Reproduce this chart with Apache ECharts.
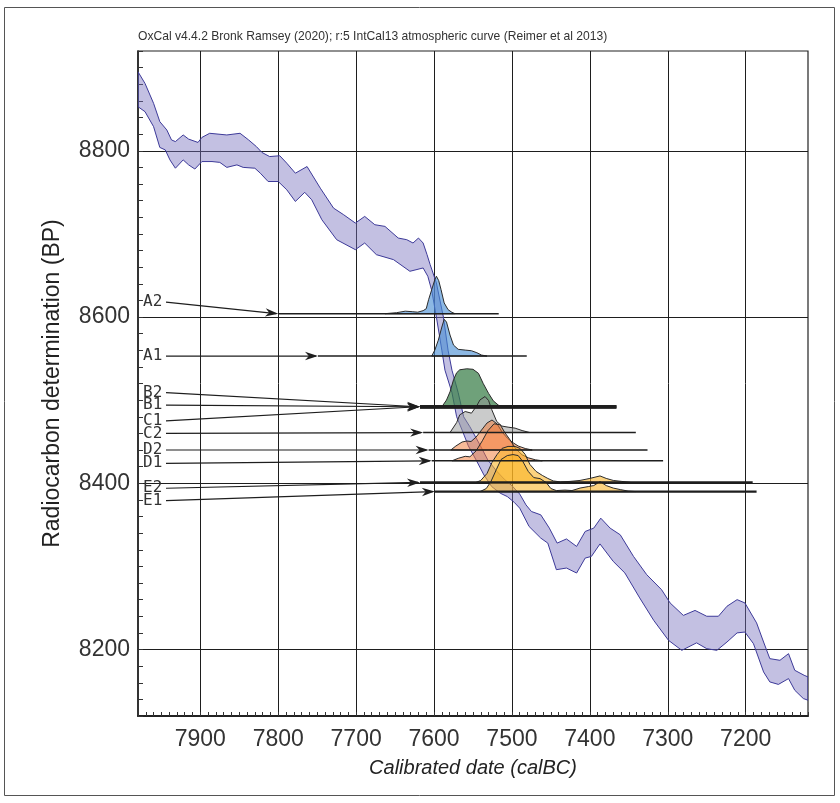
<!DOCTYPE html>
<html>
<head>
<meta charset="utf-8">
<script src="https://cdn.jsdelivr.net/npm/echarts@6/dist/echarts.min.js"></script>
<style>
  html, body { margin: 0; padding: 0; background: #fff; }
  #chart { width: 840px; height: 803px; }
</style>
</head>
<body>
<div id="chart"></div>
<script>
// IntCal13 atmospheric curve, 1-sigma envelope: [calBC, BP]
const curveUpper = [
  [7980, 8895], [7971, 8881], [7960, 8857], [7952, 8835], [7943, 8825], [7937, 8813], [7932, 8811],
  [7922, 8819], [7915, 8814], [7903, 8810], [7898, 8816], [7888, 8821], [7866, 8819], [7849, 8821],
  [7838, 8813], [7828, 8805], [7821, 8798], [7811, 8793], [7798, 8794], [7789, 8785], [7778, 8773],
  [7763, 8781], [7746, 8755], [7729, 8731], [7716, 8723], [7701, 8713], [7689, 8721], [7676, 8711],
  [7663, 8709], [7646, 8695], [7635, 8693], [7627, 8689], [7620, 8695], [7614, 8689], [7609, 8675],
  [7605, 8663], [7597, 8641], [7588, 8600], [7582, 8560], [7577, 8536], [7569, 8509], [7562, 8480],
  [7554, 8468], [7541, 8446], [7531, 8428], [7520, 8415], [7510, 8405], [7500, 8397], [7490, 8387],
  [7482, 8374], [7475, 8366], [7463, 8362], [7452, 8346], [7442, 8328], [7430, 8333], [7417, 8324],
  [7406, 8342], [7395, 8346], [7386, 8358], [7374, 8346], [7361, 8338], [7344, 8312], [7327, 8290],
  [7308, 8272], [7297, 8256], [7280, 8241], [7265, 8247], [7250, 8240], [7235, 8240], [7224, 8252],
  [7211, 8260], [7201, 8256], [7186, 8232], [7177, 8209], [7169, 8189], [7156, 8187], [7145, 8195],
  [7137, 8175], [7125, 8169], [7120, 8167]
];
const curveLower = [
  [7980, 8853], [7971, 8847], [7960, 8829], [7952, 8804], [7945, 8801], [7939, 8789], [7932, 8779],
  [7922, 8789], [7915, 8783], [7907, 8778], [7898, 8787], [7885, 8787], [7875, 8786], [7866, 8780],
  [7853, 8783], [7845, 8780], [7830, 8779], [7823, 8773], [7813, 8763], [7800, 8763], [7789, 8753],
  [7778, 8739], [7766, 8750], [7757, 8741], [7744, 8717], [7725, 8693], [7701, 8681], [7689, 8689],
  [7674, 8675], [7652, 8669], [7631, 8655], [7614, 8659], [7608, 8649], [7603, 8632], [7597, 8600],
  [7590, 8560], [7586, 8536], [7577, 8509], [7571, 8480], [7564, 8464], [7556, 8445], [7546, 8428],
  [7536, 8410], [7526, 8396], [7515, 8388], [7506, 8384], [7497, 8377], [7490, 8370], [7478, 8348],
  [7463, 8334], [7454, 8328], [7443, 8296], [7430, 8298], [7417, 8292], [7406, 8310], [7398, 8312],
  [7387, 8327], [7370, 8306], [7355, 8292], [7336, 8262], [7318, 8235], [7299, 8211], [7282, 8199],
  [7263, 8208], [7250, 8201], [7237, 8199], [7224, 8209], [7211, 8220], [7201, 8221], [7190, 8207],
  [7177, 8173], [7169, 8161], [7158, 8158], [7145, 8165], [7137, 8151], [7126, 8141], [7120, 8139]
];

// Samples: name, BP of the label, BP of the plotted baseline, calBC span of the baseline
const sampleNames = ['A2', 'A1', 'B2', 'B1', 'C1', 'C2', 'D2', 'D1', 'E2', 'E1'];
const labelBP     = [8618, 8553, 8509, 8494, 8475, 8460, 8440, 8424, 8394, 8379];
const baselineBP  = [8604, 8553, 8492, 8492, 8492, 8461, 8440, 8427, 8401, 8390];
const spanStart   = [7800, 7749, 7618, 7618, 7618, 7614, 7607, 7603, 7618, 7599];
const spanEnd     = [7517, 7481, 7366, 7366, 7366, 7341, 7326, 7306, 7191, 7186];

// Calibrated probability distributions: [calBC, scaled probability above baseline]
const distA2 = [[7663, 0], [7648, 1.2], [7637, 3], [7628, 2.4], [7621, 1.8], [7614, 3.6], [7610, 6],
  [7607, 16.8], [7603, 28.9], [7599, 40.9], [7597, 45.1], [7594, 39.7], [7591, 28.9], [7587, 12.9],
  [7582, 4.8], [7577, 1.6], [7573, 0]];
const distA1 = [[7603, 0], [7599, 7.2], [7594.5, 19.2], [7590, 34.9], [7587, 44.2], [7584, 40.9],
  [7579.5, 25.3], [7575, 13.2], [7569, 8.1], [7560, 7.2], [7552, 6.4], [7545, 4], [7539, 1.2], [7532, 0]];
const distB = [[7590, 0], [7584, 8.1], [7579.5, 18], [7575, 32.5], [7571, 40.9], [7567, 44.5],
  [7558, 45.7], [7550, 45.1], [7543, 40.2], [7537, 28.2], [7530, 16.1], [7524, 7.2], [7517.5, 2], [7511, 0]];
const distC2 = [[7579.5, 0], [7571, 12], [7567, 21.3], [7560, 25.3], [7552, 23.3], [7545, 32.5],
  [7541, 39.3], [7534.5, 43.3], [7530, 38.5], [7526, 27.7], [7519.5, 13.2], [7513, 7.8], [7505, 6.5],
  [7496, 5.3], [7487, 2.4], [7477, 0]];
const distD2 = [[7578.5, 0], [7572, 4.8], [7564, 9.6], [7558, 10.8], [7552.5, 10.2], [7546, 15.6],
  [7538, 25.3], [7532, 32.5], [7525.6, 36.1], [7519, 31.3], [7512.7, 21.7], [7506, 14.4], [7500, 9.6],
  [7492, 4.8], [7483, 1.8], [7474, 0]];
const distD1 = [[7577, 0], [7569, 3], [7560, 5.4], [7554, 4.8], [7546, 12], [7538, 24.1], [7531, 36.1],
  [7523, 44.5], [7515, 43.3], [7509, 33.7], [7502.5, 25.3], [7495, 14.4], [7487, 7.2], [7479, 3.6],
  [7470, 1.2], [7461, 0]];
const distE2 = [[7546, 0], [7540, 2.4], [7532, 10.8], [7525.6, 24.1], [7519, 33.7], [7512.7, 40.9],
  [7505, 43.3], [7496, 43.3], [7489.6, 40.9], [7483, 33.7], [7477, 21.7], [7469, 13.2], [7461, 8.4],
  [7454, 4.8], [7447, 1.8], [7438, 0.6], [7425.5, 1.2], [7412.6, 2.4], [7400, 4.8], [7387, 7.8],
  [7379, 4.8], [7370, 2.4], [7359, 1.2], [7348, 0]];
const distE1 = [[7541, 0], [7533, 3.6], [7527, 12], [7520, 26.5], [7514, 38.5], [7506, 43.3],
  [7498.6, 44.5], [7492, 43.3], [7486, 36.1], [7479, 24.1], [7472, 16.8], [7464, 15.6], [7456, 10.8],
  [7450, 3.6], [7443, 1.2], [7432, 1.8], [7423, 1.2], [7412.6, 4.2], [7402, 6], [7395, 7.2],
  [7387, 12], [7379, 7.2], [7370, 4.2], [7361, 2.4], [7351, 0.6], [7341, 0]];

// Axis ticks
const xMajorTicks = [7200, 7300, 7400, 7500, 7600, 7700, 7800, 7900];
const yMajorTicks = [8200, 8400, 8600, 8800];

const TITLE = 'OxCal v4.4.2 Bronk Ramsey (2020); r:5 IntCal13 atmospheric curve (Reimer et al 2013)';
const FONT = "'Liberation Sans', Arial, Helvetica, sans-serif";
const GRID = { left: 138, right: 32, top: 51, bottom: 87 };

// Which sample's baseline each distribution sits on, and its fill
const distLayers = [
  { data: distA2, sample: 'A2', fill: 'rgba(70,140,212,0.62)' },
  { data: distA1, sample: 'A1', fill: 'rgba(70,140,212,0.62)' },
  { data: distB,  sample: 'B1', fill: 'rgba(55,125,70,0.72)' },
  { data: distC2, sample: 'C2', fill: 'rgba(150,152,152,0.5)' },
  { data: distD2, sample: 'D2', fill: 'rgba(242,120,50,0.5)' },
  { data: distD1, sample: 'D1', fill: 'rgba(242,120,50,0.5)' },
  { data: distE2, sample: 'E2', fill: 'rgba(250,180,35,0.58)' },
  { data: distE1, sample: 'E1', fill: 'rgba(250,180,35,0.58)' }
];
const baselineWidths = { B2: 3.2, B1: 3.2, C1: 3.2, E2: 2.2, E1: 2.2 };

const chart = echarts.init(document.getElementById('chart'), null, { renderer: 'canvas' });

function bandSeries() {
  return {
    type: 'custom', xAxisIndex: 0, yAxisIndex: 0, clip: true, silent: true, z: 2,
    data: [[7550, 8500]],
    renderItem: function (params, api) {
      const pts = curveUpper.map(p => api.coord(p))
        .concat(curveLower.slice().reverse().map(p => api.coord(p)));
      return {
        type: 'polygon',
        shape: { points: pts },
        style: { fill: 'rgba(118,112,190,0.44)', stroke: '#3d3a99', lineWidth: 1 }
      };
    }
  };
}

function distSeries(layer, i) {
  const base = baselineBP[sampleNames.indexOf(layer.sample)];
  return {
    type: 'custom', xAxisIndex: 0, yAxisIndex: 0, clip: true, silent: true, z: 3 + i * 0.01,
    data: [[7550, 8500]],
    renderItem: function (params, api) {
      const pts = layer.data.map(d => api.coord([d[0], base + d[1]]));
      pts.unshift(api.coord([layer.data[0][0], base]));
      pts.push(api.coord([layer.data[layer.data.length - 1][0], base]));
      return {
        type: 'polygon',
        shape: { points: pts },
        style: { fill: layer.fill, stroke: '#2b2b2b', lineWidth: 1 }
      };
    }
  };
}

function annotationSeries() {
  return {
    type: 'custom', xAxisIndex: 0, yAxisIndex: 0, clip: false, silent: true, z: 10,
    data: [[7550, 8500]],
    renderItem: function (params, api) {
      const children = [];
      const gx = params.coordSys.x;
      sampleNames.forEach((name, i) => {
        const ly = api.coord([spanStart[i], labelBP[i]])[1];
        const tip = api.coord([spanStart[i], baselineBP[i]]);
        const end = api.coord([spanEnd[i], baselineBP[i]]);
        const start = [gx + 28, ly];
        // baseline of the distribution
        children.push({
          type: 'line',
          shape: { x1: tip[0], y1: tip[1], x2: end[0], y2: end[1] },
          style: { stroke: '#1e1e1e', lineWidth: baselineWidths[name] || 1.4 }
        });
        // arrow shaft
        children.push({
          type: 'line',
          shape: { x1: start[0], y1: start[1], x2: tip[0] - 2, y2: tip[1] },
          style: { stroke: '#1e1e1e', lineWidth: 1.2 }
        });
        // barbed arrowhead
        const dx = tip[0] - start[0], dy = tip[1] - start[1];
        const len = Math.sqrt(dx * dx + dy * dy);
        const ux = dx / len, uy = dy / len, nx = -uy, ny = ux;
        const L = 13, W = 4.2;
        children.push({
          type: 'polygon',
          shape: { points: [
            [tip[0], tip[1]],
            [tip[0] - L * ux + W * nx, tip[1] - L * uy + W * ny],
            [tip[0] - 0.7 * L * ux, tip[1] - 0.7 * L * uy],
            [tip[0] - L * ux - W * nx, tip[1] - L * uy - W * ny]
          ] },
          style: { fill: '#1e1e1e' }
        });
        // sample label
        children.push({
          type: 'text',
          x: gx + 5, y: ly,
          style: {
            text: name, fill: '#333', fontSize: 16,
            fontFamily: "'DejaVu Sans Mono', monospace",
            align: 'left', verticalAlign: 'middle'
          }
        });
      });
      return { type: 'group', children: children };
    }
  };
}

const series = [bandSeries()]
  .concat(distLayers.map(distSeries))
  .concat([annotationSeries()]);

const plainNumber = v => String(v);

chart.setOption({
  animation: false,
  backgroundColor: '#fff',
  grid: [
    Object.assign({ show: true, borderColor: '#222', borderWidth: 1.2, backgroundColor: 'transparent' }, GRID),
    Object.assign({ show: false }, GRID)
  ],
  xAxis: [
    {
      type: 'value', gridIndex: 0, min: 7120, max: 7980, inverse: true, position: 'bottom',
      axisLine: { show: true, onZero: false, lineStyle: { color: '#222', width: 2 } },
      axisTick: { show: false, customValues: xMajorTicks },
      axisLabel: { customValues: xMajorTicks, formatter: plainNumber, fontSize: 23, color: '#333', fontFamily: FONT, margin: 12 },
      splitLine: { show: true, lineStyle: { color: '#1e1e1e', width: 1 } },
      name: 'Calibrated date (calBC)', nameLocation: 'middle', nameGap: 42,
      nameTextStyle: { fontSize: 20, fontStyle: 'italic', color: '#222', fontFamily: FONT }
    },
    {
      type: 'value', gridIndex: 1, min: 7120, max: 7980, inverse: true, interval: 10, position: 'bottom',
      axisLine: { show: false },
      axisTick: { show: true, inside: true, length: 4, lineStyle: { color: '#333', width: 1 } },
      axisLabel: { show: false },
      splitLine: { show: false }
    }
  ],
  yAxis: [
    {
      type: 'value', gridIndex: 0, min: 8120, max: 8920, position: 'left',
      axisLine: { show: true, onZero: false, lineStyle: { color: '#222', width: 1.6 } },
      axisTick: { show: false, customValues: yMajorTicks },
      axisLabel: { customValues: yMajorTicks, formatter: plainNumber, fontSize: 23, color: '#333', fontFamily: FONT, margin: 8 },
      splitLine: { show: true, lineStyle: { color: '#1e1e1e', width: 1 } },
      name: 'Radiocarbon determination (BP)', nameLocation: 'middle', nameGap: 74, nameRotate: 90,
      nameTextStyle: { fontSize: 23, color: '#222', fontFamily: FONT }
    },
    {
      type: 'value', gridIndex: 1, min: 8120, max: 8920, interval: 20, position: 'left',
      axisLine: { show: false },
      axisTick: { show: true, inside: true, length: 5, lineStyle: { color: '#333', width: 1 } },
      axisLabel: { show: false },
      splitLine: { show: false }
    }
  ],
  graphic: [
    {
      type: 'rect', silent: true, z: -1,
      shape: { x: 4.5, y: 7.5, width: 830, height: 788 },
      style: { fill: 'none', stroke: '#555', lineWidth: 1 }
    },
    {
      type: 'text', silent: true, left: GRID.left, top: 31,
      style: { text: TITLE, fill: '#333', fontSize: 12.1, fontFamily: FONT }
    }
  ],
  series: series
});
</script>
</body>
</html>
